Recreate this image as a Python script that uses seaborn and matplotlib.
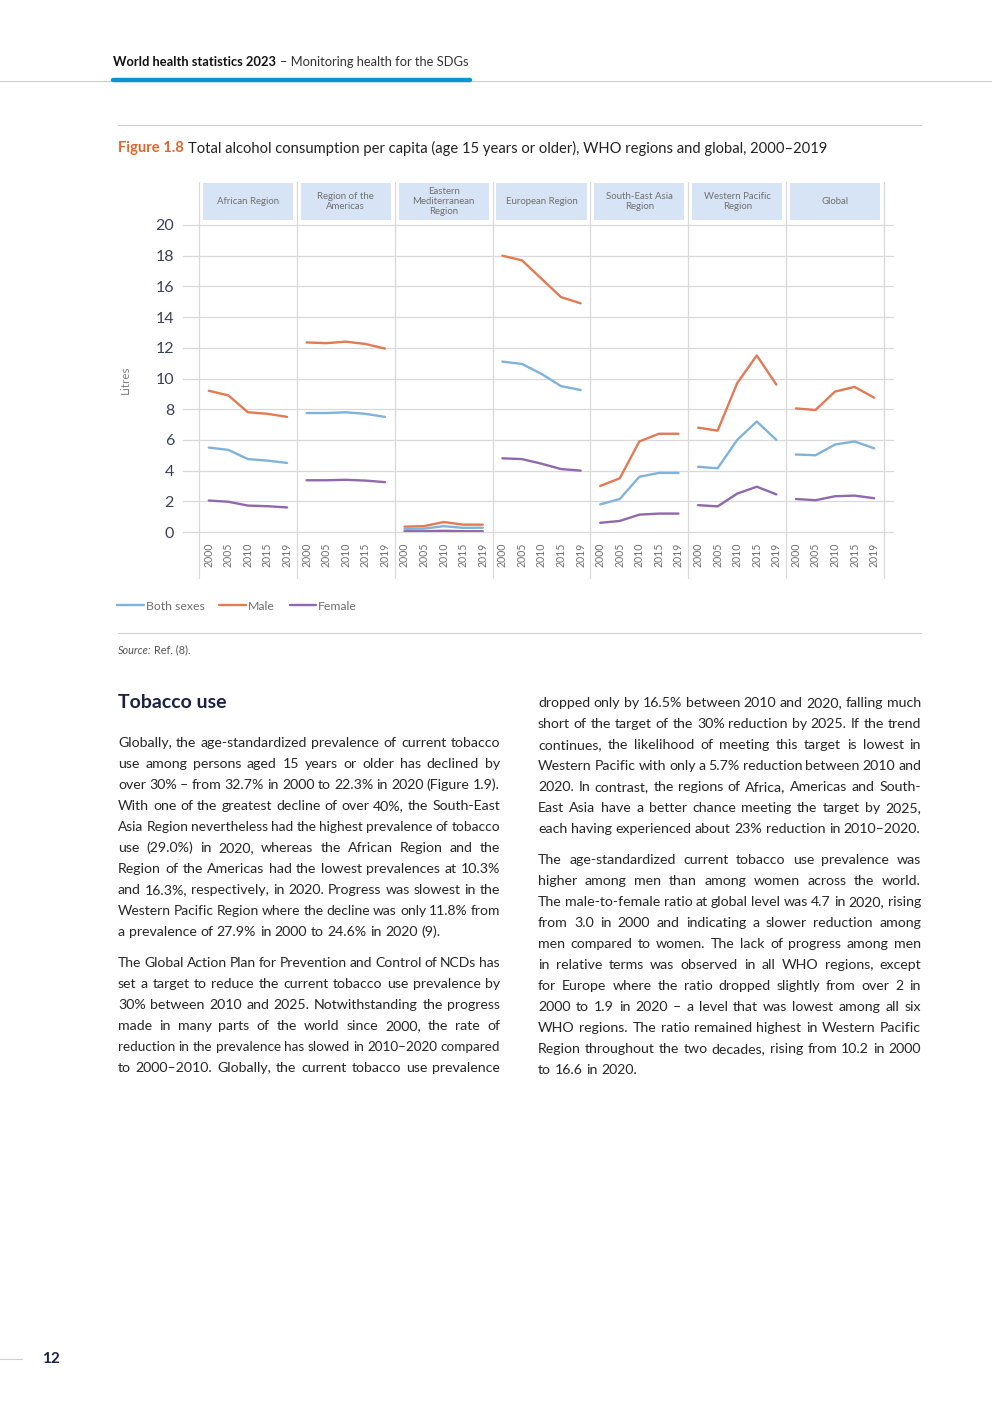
import matplotlib
matplotlib.use("Agg")
import matplotlib.pyplot as plt
from matplotlib.lines import Line2D
from matplotlib.patches import Rectangle
import matplotlib.transforms as mtransforms
import pandas as pd
import seaborn as sns

# Chart data (litres per capita)
regions = ["African Region", "Region of the\nAmericas", "Eastern\nMediterranean\nRegion",
           "European Region", "South-East Asia\nRegion", "Western Pacific\nRegion", "Global"]
years = ["2000", "2005", "2010", "2015", "2019"]
both_sexes = [[5.5, 5.35, 4.75, 4.65, 4.5], [7.75, 7.75, 7.8, 7.7, 7.5], [0.2, 0.22, 0.38, 0.27, 0.28],
              [11.1, 10.95, 10.3, 9.5, 9.25], [1.8, 2.15, 3.6, 3.85, 3.85], [4.25, 4.15, 6.0, 7.2, 6.0],
              [5.05, 5.0, 5.7, 5.9, 5.45]]
male = [[9.2, 8.9, 7.8, 7.7, 7.5], [12.35, 12.3, 12.4, 12.25, 11.95], [0.35, 0.38, 0.65, 0.48, 0.48],
        [18.0, 17.7, 16.5, 15.3, 14.9], [3.0, 3.5, 5.9, 6.4, 6.4], [6.8, 6.6, 9.7, 11.5, 9.6],
        [8.05, 7.95, 9.15, 9.45, 8.75]]
female = [[2.05, 1.97, 1.72, 1.68, 1.6], [3.37, 3.37, 3.4, 3.35, 3.25], [0.05, 0.05, 0.08, 0.05, 0.05],
          [4.8, 4.75, 4.45, 4.1, 4.0], [0.6, 0.72, 1.13, 1.2, 1.2], [1.75, 1.67, 2.5, 2.95, 2.45],
          [2.15, 2.07, 2.33, 2.37, 2.2]]
series = {"Both sexes": both_sexes, "Male": male, "Female": female}
palette = {"Both sexes": "#7fb3dd", "Male": "#e27a55", "Female": "#9168ab"}
y_ticks = [0, 2, 4, 6, 8, 10, 12, 14, 16, 18, 20]

# Page text
left_paras = [
    ["Globally, the age-standardized prevalence of current tobacco",
     "use among persons aged 15 years or older has declined by",
     "over 30% – from 32.7% in 2000 to 22.3% in 2020 (Figure 1.9).",
     "With one of the greatest decline of over 40%, the South-East",
     "Asia Region nevertheless had the highest prevalence of tobacco",
     "use (29.0%) in 2020, whereas the African Region and the",
     "Region of the Americas had the lowest prevalences at 10.3%",
     "and 16.3%, respectively, in 2020. Progress was slowest in the",
     "Western Pacific Region where the decline was only 11.8% from",
     "a prevalence of 27.9% in 2000 to 24.6% in 2020 (9)."],
    ["The Global Action Plan for Prevention and Control of NCDs has",
     "set a target to reduce the current tobacco use prevalence by",
     "30% between 2010 and 2025. Notwithstanding the progress",
     "made in many parts of the world since 2000, the rate of",
     "reduction in the prevalence has slowed in 2010–2020 compared",
     "to 2000–2010. Globally, the current tobacco use prevalence",
     None],
]
right_paras = [
    ["dropped only by 16.5% between 2010 and 2020, falling much",
     "short of the target of the 30% reduction by 2025. If the trend",
     "continues, the likelihood of meeting this target is lowest in",
     "Western Pacific with only a 5.7% reduction between 2010 and",
     "2020. In contrast, the regions of Africa, Americas and South-",
     "East Asia have a better chance meeting the target by 2025,",
     "each having experienced about 23% reduction in 2010–2020."],
    ["The age-standardized current tobacco use prevalence was",
     "higher among men than among women across the world.",
     "The male-to-female ratio at global level was 4.7 in 2020, rising",
     "from 3.0 in 2000 and indicating a slower reduction among",
     "men compared to women. The lack of progress among men",
     "in relative terms was observed in all WHO regions, except",
     "for Europe where the ratio dropped slightly from over 2 in",
     "2000 to 1.9 in 2020 – a level that was lowest among all six",
     "WHO regions. The ratio remained highest in Western Pacific",
     "Region throughout the two decades, rising from 10.2 in 2000",
     "to 16.6 in 2020."],
]

sns.set_theme(style="white")
plt.rcParams["font.family"] = ["Lato", "DejaVu Sans"]

W, H = 992, 1403
fig = plt.figure(figsize=(W / 100, H / 100), dpi=100)
renderer = fig.canvas.get_renderer()


def fx(x):
    return x / W


def fy(y):
    return 1 - y / H


def hline(x0, x1, y, color="#cfcfcf", lw=0.8):
    fig.add_artist(Line2D([fx(x0), fx(x1)], [fy(y), fy(y)], color=color, lw=lw))


def runs(x, y, parts, gap=4):
    # draw text pieces one after another on a line
    for txt, kw in parts:
        t = fig.text(fx(x), fy(y), txt, va="center", ha="left", **kw)
        x += t.get_window_extent(renderer).width + gap


def justify(line, x0, x1, y, full=True, fontsize=10.2, **kw):
    words = line.split(" ")
    texts = [fig.text(fx(x0), fy(y), w, va="center", ha="left", fontsize=fontsize, **kw) for w in words]
    widths = [t.get_window_extent(renderer).width for t in texts]
    gap = 3.6
    if full:
        gap = (x1 - x0 - sum(widths)) / (len(words) - 1)
        # shrink a too-long line a little so the word gaps stay readable
        while gap < 2.8:
            fontsize -= 0.1
            for t in texts:
                t.set_fontsize(fontsize)
            widths = [t.get_window_extent(renderer).width for t in texts]
            gap = (x1 - x0 - sum(widths)) / (len(words) - 1)
    x = x0
    for t, w in zip(texts, widths):
        t.set_x(fx(x))
        x += w + gap


def column(paras, x0, x1, y, step=21, para_gap=10):
    for para in paras:
        lines = [l for l in para if l is not None]
        continued = para[-1] is None
        for i, line in enumerate(lines):
            last = (i == len(lines) - 1) and not continued
            justify(line, x0, x1, y, full=not last, color="#262626")
            y += step
        y += para_gap


# Header
runs(113, 62, [("World health statistics 2023", dict(fontsize=9.3, fontweight="bold", color="#111111")),
               ("– Monitoring health for the SDGs", dict(fontsize=9.3, color="#333333"))])
hline(0, W, 80.5, color="#cccccc", lw=0.8)
hline(113, 470, 80, color="#0a93d1", lw=3.2)

# Figure title
hline(118, 921, 124.5)
runs(118, 148, [("Figure 1.8", dict(fontsize=10.6, fontweight="bold", color="#e0662a")),
                ("Total alcohol consumption per capita (age 15 years or older), WHO regions and global, 2000–2019",
                 dict(fontsize=10.6, color="#222222"))])

# Chart
rows = []
n = len(years)
for sex, vals in series.items():
    for r, reg in enumerate(regions):
        for i, yr in enumerate(years):
            rows.append({"region": reg, "sex": sex, "year": yr, "pos": r * n + i, "value": vals[r][i]})
df = pd.DataFrame(rows)

ax = fig.add_axes([fx(199), fy(532), (884 - 199) / W, (532 - 225) / H])
sns.lineplot(data=df, x="pos", y="value", hue="sex", units="region", estimator=None,
             palette=palette, hue_order=list(series), linewidth=1.7, sort=False, ax=ax)
ax.set_xlim(-0.5, len(regions) * n - 0.5)
ax.set_ylim(0, 20)
for s in ax.spines.values():
    s.set_visible(False)
ax.set_xlabel("")
ax.set_ylabel("")

trans = mtransforms.blended_transform_factory(ax.transAxes, ax.transData)
for v in y_ticks:
    ax.plot([-0.0234, 1.0131], [v, v], transform=trans, color="#d9d9d9", lw=0.9, clip_on=False, zorder=0)
ax.set_yticks(y_ticks)
ax.set_yticklabels([str(v) for v in y_ticks], fontsize=11.5, color="#3b4058")
ax.tick_params(axis="y", length=0, pad=18)

ax.set_xticks(range(len(regions) * n))
ax.set_xticklabels(years * len(regions), rotation=90, fontsize=7.6, color="#6e6e6e")
ax.tick_params(axis="x", length=0, pad=8)

vtrans = mtransforms.blended_transform_factory(ax.transData, ax.transAxes)
for k in range(len(regions) + 1):
    xb = k * n - 0.5
    ax.plot([xb, xb], [-0.150, 1.140], transform=vtrans, color="#d9d9d9", lw=0.9, clip_on=False, zorder=0)
for k, reg in enumerate(regions):
    x0 = k * n - 0.5
    ax.add_patch(Rectangle((x0 + 0.2, 1.016), n - 0.4, 0.122, transform=vtrans,
                           facecolor="#d6e4f5", edgecolor="none", clip_on=False))
    ax.text(x0 + n / 2, 1.077, reg, transform=vtrans, ha="center", va="center",
            fontsize=6.9, color="#707070", linespacing=1.1)

fig.text(fx(125), fy(380), "Litres", rotation=90, ha="center", va="center", fontsize=8.4, color="#7f7f7f")

handles, labels = ax.get_legend_handles_labels()
ax.get_legend().remove()
fig.legend(handles, labels, loc="center left", bbox_to_anchor=(fx(117), fy(606)), ncol=3,
           frameon=False, fontsize=8.8, labelcolor="#6e6e6e", handlelength=2.2,
           handletextpad=0.15, columnspacing=1.2, borderpad=0, borderaxespad=0)

hline(118, 921, 633.5)
runs(118, 650, [("Source:", dict(fontsize=7.8, fontstyle="italic", color="#555555")),
                ("Ref. (8).", dict(fontsize=7.8, color="#555555"))], gap=2)

# Text section
fig.text(fx(118), fy(702), "Tobacco use", ha="left", va="center", fontsize=14,
         fontweight="bold", color="#1c2145")
column(left_paras, 118, 500, 743)
column(right_paras, 538, 921, 703)

# Page number
hline(0, 22, 1359)
fig.text(fx(42), fy(1359), "12", ha="left", va="center", fontsize=11, fontweight="bold", color="#1c2145")

fig.savefig("out.png", dpi=100)
